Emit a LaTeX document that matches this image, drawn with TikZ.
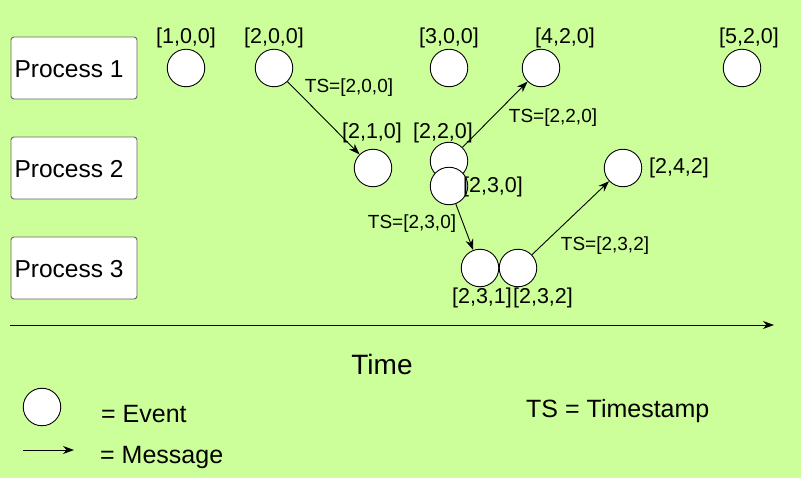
\documentclass[tikz,border=0pt]{standalone}
\usepackage{fontspec}
\setmainfont{Liberation Sans}
\usetikzlibrary{arrows.meta}
\definecolor{bg}{HTML}{CCFF99}
\definecolor{boxborder}{HTML}{666666}
\begin{document}
\begin{tikzpicture}[x=1pt,y=-1pt,
  event/.style={circle,draw=black,fill=white,line width=0.9pt,minimum size=37.5pt,inner sep=0pt},
  procbox/.style={draw=boxborder,fill=white,rounded corners=3pt,line width=0.9pt,minimum width=126pt,minimum height=62pt,inner sep=0pt},
  proctext/.style={font=\fontsize{24.5}{28}\selectfont},
  evlabel/.style={font=\fontsize{21.5}{25}\selectfont,inner sep=0pt},
  tslabel/.style={font=\fontsize{19}{22}\selectfont,inner sep=0pt},
  legtext/.style={font=\fontsize{25}{29}\selectfont,inner sep=0pt,anchor=west},
  msg/.style={draw=black,line width=0.9pt,-{Stealth[length=11pt,width=8pt]}}
]
\fill[bg] (0,0) rectangle (801,478);
\useasboundingbox (0,0) rectangle (801,478);

% process boxes
\node[procbox] (p1) at (74,68) {};
\node[proctext] (p1t) at (69,69) {Process 1};
\node[procbox] (p2) at (74,168) {};
\node[proctext] (p2t) at (69,169) {Process 2};
\node[procbox] (p3) at (74,268) {};
\node[proctext] (p3t) at (69,269) {Process 3};

% events
\node[event] (e100) at (186,68) {};
\node[event] (e200) at (274,68) {};
\node[event] (e300) at (449,68) {};
\node[event] (e420) at (541,68) {};
\node[event] (e520) at (742,68) {};
\node[event] (e210) at (373,168) {};
\node[event] (e220) at (449,161) {};
\node[event] (e230) at (449,186) {};
\node[event] (e242) at (623,168) {};
\node[event] (e231) at (480,268) {};
\node[event] (e232) at (518,268) {};

% event labels
\node[evlabel] (l100) at (186,38) {[1,0,0]};
\node[evlabel] (l200) at (274,38) {[2,0,0]};
\node[evlabel] (l300) at (449,38) {[3,0,0]};
\node[evlabel] (l420) at (565,38) {[4,2,0]};
\node[evlabel] (l520) at (749,38) {[5,2,0]};
\node[evlabel] (l210) at (372,133) {[2,1,0]};
\node[evlabel] (l220) at (443,133) {[2,2,0]};
\node[evlabel] (l230) at (493,187) {[2,3,0]};
\node[evlabel] (l242) at (679,168) {[2,4,2]};
\node[evlabel] (l231) at (482,298) {[2,3,1]};
\node[evlabel] (l232) at (543,298) {[2,3,2]};

% messages
\draw[msg] (e200) -- (e210);
\draw[msg] (e220) -- (e420);
\draw[msg] (e230) -- (e231);
\draw[msg] (e232) -- (e242);

% timestamp labels
\node[tslabel] (ts200) at (349,88) {TS=[2,0,0]};
\node[tslabel] (ts220) at (553,118) {TS=[2,2,0]};
\node[tslabel] (ts230) at (412,224) {TS=[2,3,0]};
\node[tslabel] (ts232) at (605,246) {TS=[2,3,2]};

% time axis
\coordinate (tstart) at (10,325);
\coordinate (tend) at (774,325);
\draw[msg] (tstart) -- (tend);
\node[font=\fontsize{28}{32}\selectfont,inner sep=0pt] (time) at (382,364) {Time};

% legend
\node[event] (legev) at (42,407) {};
\node[legtext] (legevt) at (101,414) {= Event};
\coordinate (lm1) at (23,450);
\coordinate (lm2) at (74,450);
\draw[msg] (lm1) -- (lm2);
\node[legtext] (legmt) at (100,457) {= Message};
\node[legtext] (legts) at (526,411) {TS = Timestamp};
\end{tikzpicture}
\end{document}
